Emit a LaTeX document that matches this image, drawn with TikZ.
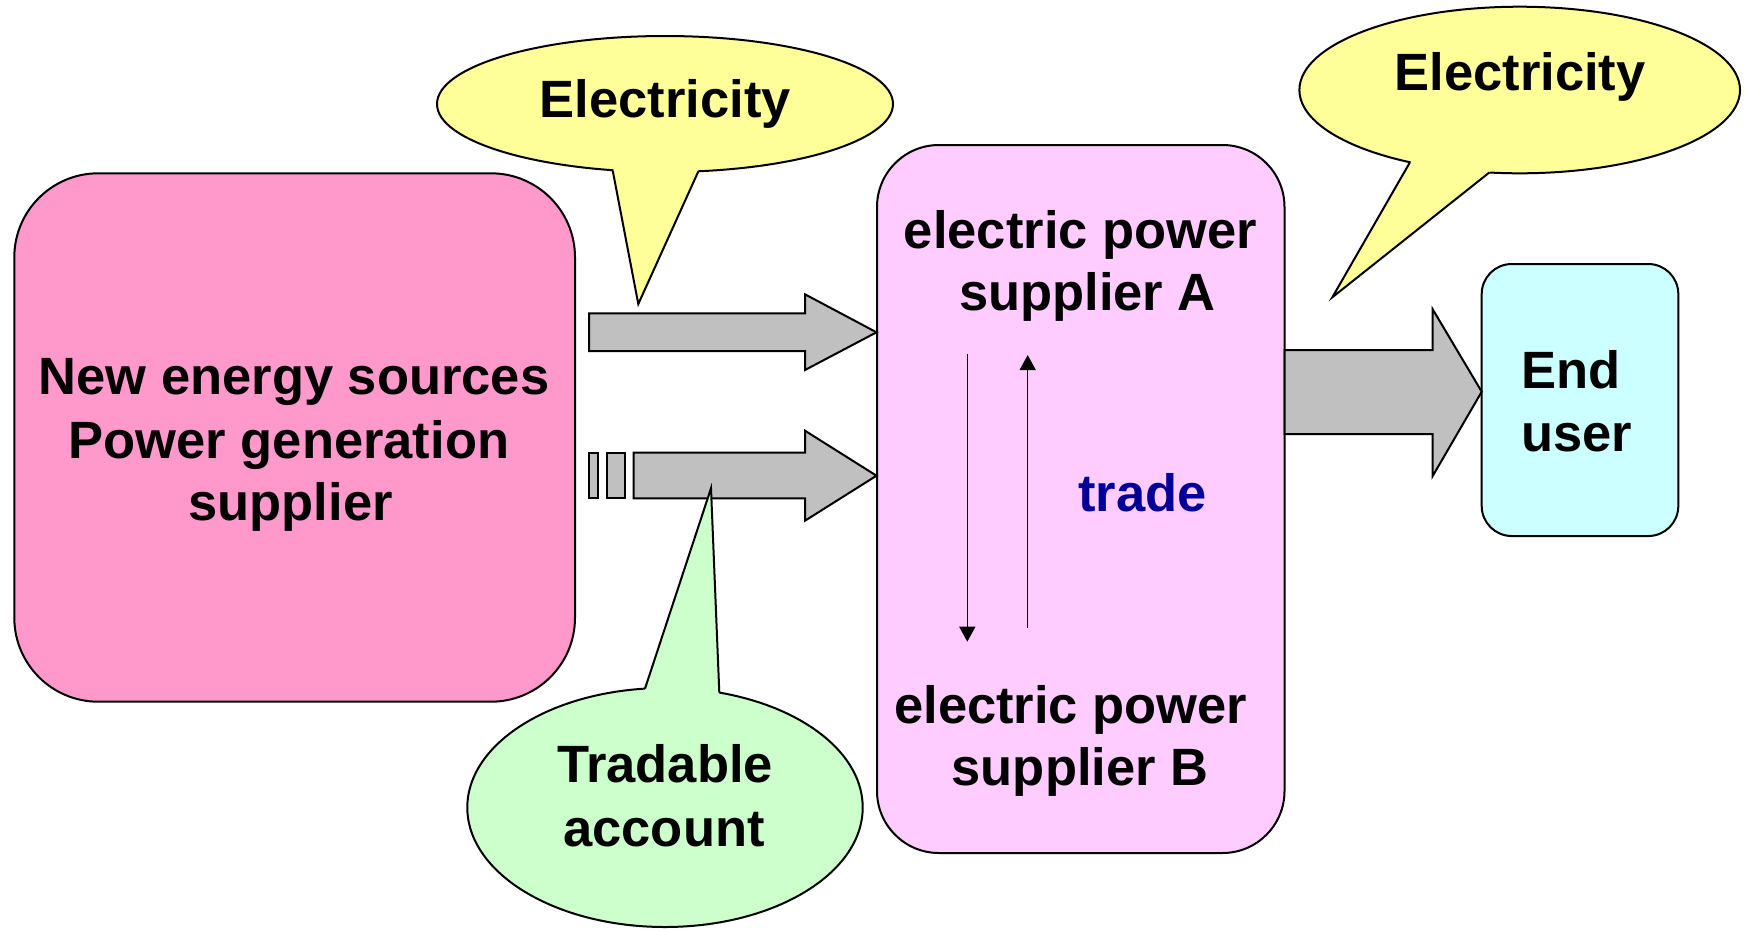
\documentclass[tikz,border=0pt]{standalone}
\usepackage{fontspec}
\setmainfont{Liberation Sans}
\usetikzlibrary{arrows.meta,shapes.geometric}
\definecolor{pinkbox}{HTML}{FF99CC}
\definecolor{violetbox}{HTML}{FFCCFF}
\definecolor{callyellow}{HTML}{FFFF99}
\definecolor{callgreen}{HTML}{CCFFCC}
\definecolor{cyanbox}{HTML}{CCFFFF}
\definecolor{arrowgray}{HTML}{C0C0C0}
\definecolor{tradeblue}{HTML}{000099}
\begin{document}
\begin{tikzpicture}[x=0.5pt,y=-0.5pt,
  outline/.style={draw=black,line width=1pt},
  boxshape/.style={outline,shape=rectangle,inner sep=0pt},
  bubble/.style={outline,shape=ellipse,inner sep=0pt},
  bigtxt/.style={font=\fontsize{26.25pt}{31pt}\selectfont\bfseries,inner sep=0pt,anchor=base},
  blockarrow/.style={outline,fill=arrowgray},
  tradearrow/.style={line width=0.75pt,-{Triangle[length=7.5pt,width=8pt]}},
]
\useasboundingbox (0,0) rectangle (1745,928);

% boxes
\node[boxshape,fill=pinkbox,rounded corners=42pt,minimum width=280.35pt,minimum height=264.2pt] (gen) at (294.65,437.5) {};
\node[boxshape,fill=violetbox,rounded corners=31pt,minimum width=203.75pt,minimum height=354pt] (sup) at (1080.75,499) {};
\node[boxshape,fill=cyanbox,rounded corners=15pt,minimum width=98.3pt,minimum height=136pt] (user) at (1580,400) {};

% block arrows
\draw[blockarrow] (589,313.3) -- (805,313.3) -- (805,294.3) -- (876.5,332.3) -- (805,370) -- (805,351) -- (589,351) -- cycle;
\draw[blockarrow] (589,452.7) rectangle (598.3,498.3);
\draw[blockarrow] (606.7,452.7) rectangle (625.3,498.3);
\draw[blockarrow] (633.7,452.7) -- (805,452.7) -- (805,430.7) -- (876.5,475.7) -- (805,520.7) -- (805,498.3) -- (633.7,498.3) -- cycle;
\draw[blockarrow] (1284.5,350) -- (1432.7,350) -- (1432.7,309.3) -- (1481.7,391.7) -- (1432.7,476) -- (1432.7,434) -- (1284.5,434) -- cycle;

% trade arrows
\coordinate (dS) at (967.3,354);
\coordinate (dE) at (967.3,641.7);
\coordinate (uS) at (1027.7,627.7);
\coordinate (uE) at (1027.7,355);
\draw[tradearrow] (dS) -- (dE);
\draw[tradearrow] (uS) -- (uE);

% callout 1
\node[bubble,fill=callyellow,minimum width=228pt,minimum height=68pt] (el1) at (665,104) {};
\coordinate (el1bl) at (612.7,170.5);
\coordinate (el1tip) at (638.3,304);
\coordinate (el1br) at (698.3,171.5);
\fill[callyellow] (el1bl) -- (el1tip) -- (el1br) -- (el1.center) -- cycle;
\draw[outline] (el1bl) -- (el1tip) -- (el1br);

% callout 2
\node[bubble,fill=callyellow,minimum width=220.3pt,minimum height=83.3pt] (el2) at (1519.7,90) {};
\coordinate (el2bl) at (1410,162.2);
\coordinate (el2tip) at (1332.3,297.3);
\coordinate (el2br) at (1489.3,172.5);
\fill[callyellow] (el2bl) -- (el2tip) -- (el2br) -- (el2.center) -- cycle;
\draw[outline] (el2bl) -- (el2tip) -- (el2br);

% callout 3
\node[bubble,fill=callgreen,minimum width=197.7pt,minimum height=119.5pt] (acc) at (665,807.5) {};
\coordinate (accbl) at (645,688.6);
\coordinate (acctip) at (711,488.3);
\coordinate (accbr) at (719.3,692.6);
\fill[callgreen] (accbl) -- (acctip) -- (accbr) -- (acc.center) -- cycle;
\draw[outline] (accbl) -- (acctip) -- (accbr);

% texts
\node[bigtxt] (gen1) at (294,394) {New energy sources};
\node[bigtxt] (gen2) at (289,458.3) {Power generation};
\node[bigtxt] (gen3) at (290.5,520) {supplier};

\node[bigtxt] (supA1) at (1080.5,248) {electric power};
\node[bigtxt] (supA2) at (1087.5,310) {supplier A};
\node[bigtxt] (supB1) at (1070.8,723.3) {electric power};
\node[bigtxt] (supB2) at (1080,785) {supplier B};
\node[bigtxt,text=tradeblue] (trade) at (1142.5,511.7) {trade};

\node[bigtxt,anchor=base west] (user1) at (1521,388.3) {End};
\node[bigtxt,anchor=base west] (user2) at (1521,451.7) {user};

\node[bigtxt] (el1t) at (665.3,117.2) {Electricity};
\node[bigtxt] (el2t) at (1520,90.7) {Electricity};
\node[bigtxt] (acc1) at (665,782.7) {Tradable};
\node[bigtxt] (acc2) at (664,846.7) {account};
\end{tikzpicture}
\end{document}
